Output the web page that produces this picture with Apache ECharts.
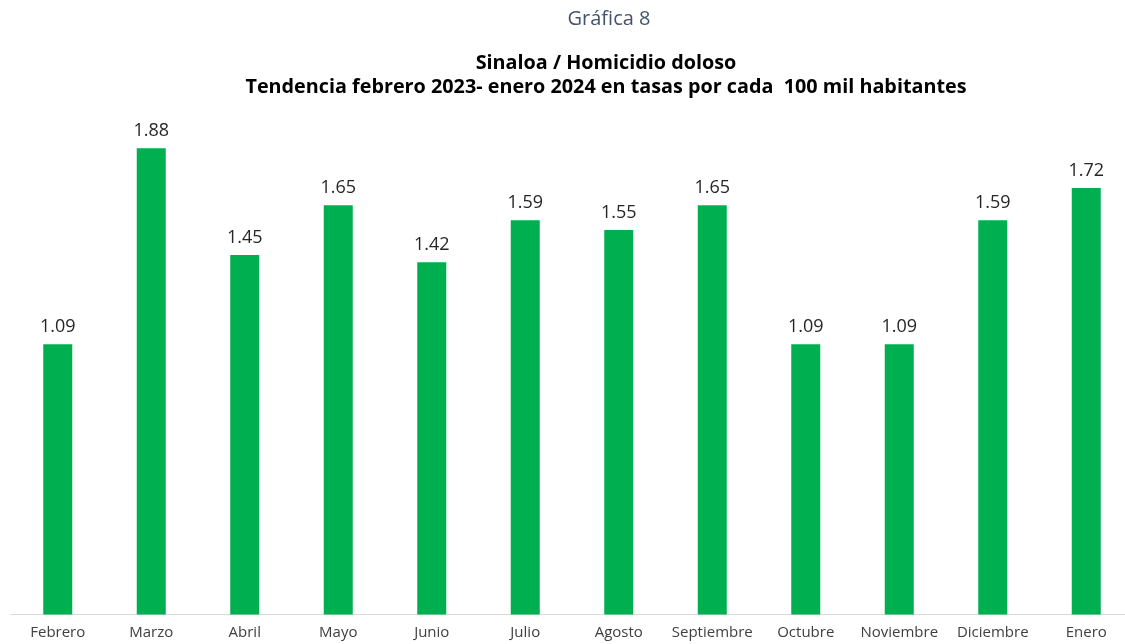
<!DOCTYPE html>
<html>
<head>
<meta charset="utf-8">
<script src="https://cdn.jsdelivr.net/npm/echarts@6/dist/echarts.min.js"></script>
<style>
html,body{margin:0;padding:0;background:#fff;overflow:hidden;width:1125px;height:644px;}
#chart{width:1133px;height:644px;}
</style>
</head>
<body>
<div id="chart"></div>
<script>
const categories = ["Febrero","Marzo","Abril","Mayo","Junio","Julio","Agosto","Septiembre","Octubre","Noviembre","Diciembre","Enero"];
const values = [1.09,1.88,1.45,1.65,1.42,1.59,1.55,1.65,1.09,1.09,1.59,1.72];
const chartLabel = "Gráfica 8";
const titleText = "Sinaloa / Homicidio doloso\nTendencia febrero 2023- enero 2024 en tasas por cada  100 mil habitantes";

const chart = echarts.init(document.getElementById('chart'));
chart.setOption({
  backgroundColor: '#ffffff',
  animation: false,
  title: [
    {
      text: chartLabel,
      left: 604, top: 4, textAlign: 'center',
      textStyle: {fontFamily: 'Open Sans', fontSize: 20, fontWeight: 'normal', color: '#44546A'}
    },
    {
      text: titleText,
      left: 601, top: 46, textAlign: 'center',
      textStyle: {fontFamily: 'Open Sans', fontSize: 19.8, fontWeight: 'bold', color: '#000000', lineHeight: 24}
    }
  ],
  grid: {left: 11, right: 0, top: 118.5, bottom: 29.5, containLabel: false},
  xAxis: {
    type: 'category',
    data: categories,
    axisLine: {show: true, lineStyle: {color: '#D9D9D9', width: 1}},
    axisTick: {show: false},
    axisLabel: {interval: 0, margin: 11, fontFamily: 'Open Sans', fontSize: 15, color: '#404040'}
  },
  yAxis: {
    type: 'value', min: 0, max: 2,
    show: false,
    splitLine: {show: false}
  },
  series: [{
    type: 'bar',
    data: values,
    barWidth: 29,
    itemStyle: {color: '#00B050'},
    label: {
      show: true, position: 'top', distance: 8,
      fontFamily: 'Open Sans', fontSize: 18, color: '#262626',
      formatter: p => p.value.toFixed(2)
    }
  }]
});
</script>
</body>
</html>
